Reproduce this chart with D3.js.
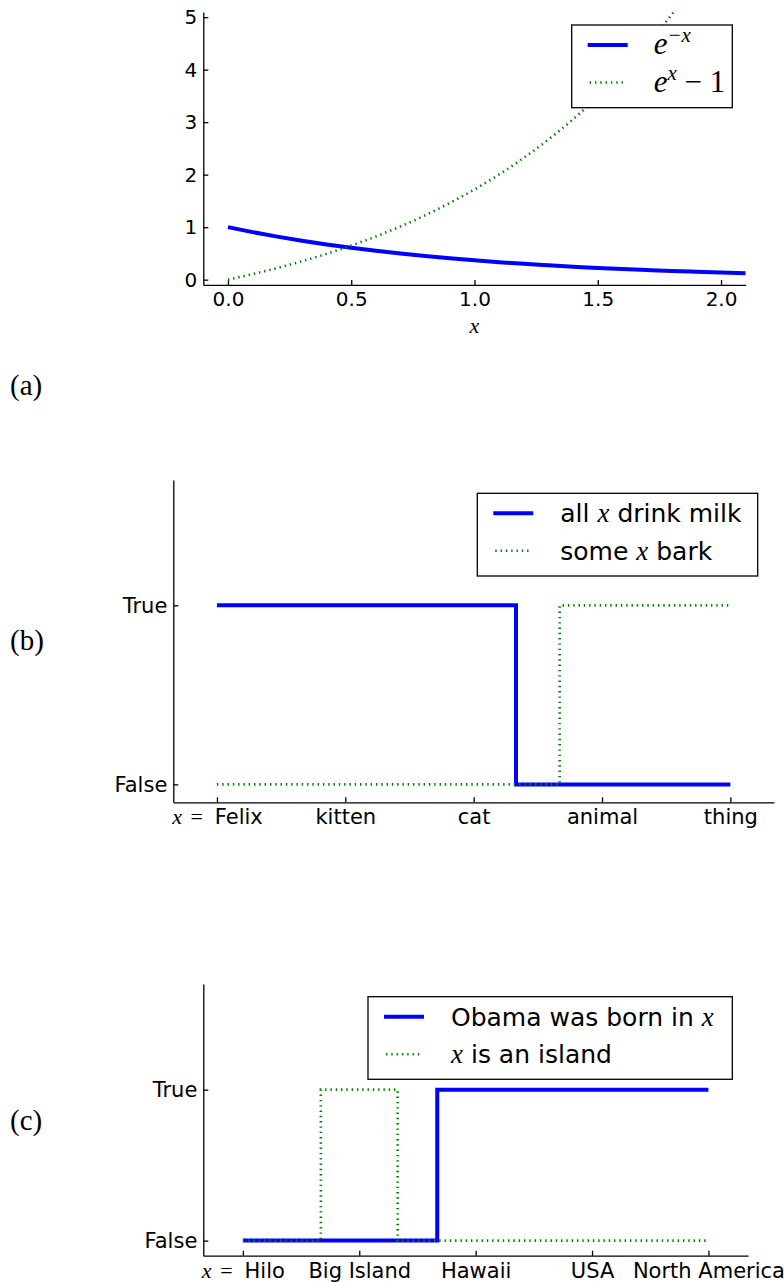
<!DOCTYPE html>
<html>
<head>
  <meta charset='utf-8'>
  <title>Three panels</title>
  <script src="https://cdn.jsdelivr.net/npm/d3@7"></script>
  <style>
    body { margin: 0; background: #fff; }
    .tick text { font-family: "DejaVu Sans", sans-serif; fill: #000; }
  </style>
</head>
<body>
  <svg width="784" height="1282" id="chart"></svg>
  <script>

    // panel (a): values
    const xsA = [0, 0.1, 0.2, 0.3, 0.4, 0.5, 0.6, 0.7, 0.8, 0.9, 1.0,
      1.1, 1.2, 1.3, 1.4, 1.5, 1.6, 1.7, 1.8, 1.9, 2.0, 2.1];
    const expNeg = [1.00, 0.905, 0.819, 0.741, 0.670, 0.607, 0.549, 0.497, 0.449, 0.407, 0.368,
      0.333, 0.301, 0.273, 0.247, 0.223, 0.202, 0.183, 0.165, 0.150, 0.135, 0.122];
    const expMinusOne = [0, 0.105, 0.221, 0.350, 0.492, 0.649, 0.822, 1.014, 1.226, 1.460, 1.718,
      2.004, 2.320, 2.669, 3.055, 3.482, 3.953, 4.474, 5.050, 5.686];
    const xTicksA = [0, 0.5, 1.0, 1.5, 2.0];
    const yTicksA = [0, 1, 2, 3, 4, 5];

    // panel (b)
    const catsB = ["Felix", "kitten", "cat", "animal", "thing"];
    const milkX = [0, 2.33, 4];
    const milkY = [1, 0, 0];
    const barkX = [0, 2.67, 4];
    const barkY = [0, 1, 1];

    // panel (c)
    const catsC = ["Hilo", "Big Island", "Hawaii", "USA", "North America"];
    const bornX = [0, 1.67, 4];
    const bornY = [0, 1, 1];
    const islandX = [0, 0.67, 1.33, 4];
    const islandY = [0, 1, 0, 0];

    const boolLabels = ["False", "True"];

    const blue = "#0000ff";
    const green = "#008000";
    const tickFont = 21;
    const serif = "'Liberation Serif', 'Times New Roman', serif";

    const svg = d3.select('#chart');

    function axes(g, x, y, xTicks, yTicks, xFmt, yFmt, fs) {
      const ax = d3.axisBottom(x).tickValues(xTicks).tickFormat(xFmt)
        .tickSizeInner(-5).tickSizeOuter(0).tickPadding(7);
      const ay = d3.axisLeft(y).tickValues(yTicks).tickFormat(yFmt)
        .tickSizeInner(-5).tickSizeOuter(0).tickPadding(6);
      const gx = g.append('g').attr('transform', `translate(0,${y.range()[0]})`).call(ax);
      const gy = g.append('g').attr('transform', `translate(${x.range()[0]},0)`).call(ay);
      [gx, gy].forEach(a => {
        a.selectAll('path, line').attr('stroke', '#000').attr('stroke-width', 1.3);
        a.selectAll('text').style('font-size', fs + 'px');
      });
      return gx;
    }

    function drawLine(g, pts, x, y, color, dotted, curve, clipId) {
      const line = d3.line().x(d => x(d[0])).y(d => y(d[1])).curve(curve);
      const p = g.append('path')
        .datum(pts)
        .attr('d', line)
        .attr('fill', 'none')
        .attr('stroke', color)
        .attr('stroke-width', dotted ? 2.6 : 4)
        .attr('stroke-dasharray', dotted ? '1.4 3.9' : null);
      if (clipId) p.attr('clip-path', `url(#${clipId})`);
    }

    function legend(g, x0, y0, w, h, items) {
      g.append('rect')
        .attr('x', x0).attr('y', y0).attr('width', w).attr('height', h)
        .attr('fill', '#fff').attr('stroke', '#000').attr('stroke-width', 1.3);
      items.forEach((it, i) => {
        const cy = y0 + 20 + i * 37.5;
        g.append('line')
          .attr('x1', x0 + (it.dotted ? 18 : 16)).attr('x2', x0 + (it.dotted ? 52 : 56))
          .attr('y1', cy).attr('y2', cy)
          .attr('stroke', it.color)
          .attr('stroke-width', it.dotted ? 2.6 : 4)
          .attr('stroke-dasharray', it.dotted ? '1.4 3.9' : null);
        const t = g.append('text').attr('x', x0 + it.tx).attr('y', cy + 9)
          .style('font-family', "'DejaVu Sans', sans-serif").style('font-size', '25px');
        it.parts.forEach(p => {
          const s = t.append('tspan').text(p.t);
          if (p.math) s.style('font-family', serif).style('font-style', 'italic').style('font-size', (p.fs || 27) + 'px');
          if (p.rm) s.style('font-family', serif).style('font-size', (p.fs || 27) + 'px');
          if (p.sup) s.attr('dy', -12).style('font-size', '21px');
          if (p.down) s.attr('dy', 12);
        });
      });
    }

    function panelLabel(txt, yc) {
      svg.append('text').attr('x', 10).attr('y', yc + 10)
        .style('font-family', serif).style('font-size', '29px').text(txt);
    }

    // first category label reads "x = Felix"
    function xEquals(gx) {
      const t = gx.select('.tick text');
      const name = t.text();
      t.text(null);
      t.append('tspan').text('x').style('font-family', serif).style('font-style', 'italic').style('font-size', '22px');
      t.append('tspan').text(' =').attr('dx', 3).style('font-family', serif).style('font-size', '22px');
      t.append('tspan').text(name).attr('dx', 12);
    }

    // ---- (a)
    {
      const x = d3.scaleLinear().domain([-0.1, 2.1]).range([203.3, 745.7]);
      const y = d3.scaleLinear().domain([-0.1, 5.1]).range([284.9, 11.9]);
      const g = svg.append('g');
      g.append('clipPath').attr('id', 'clipA').append('rect')
        .attr('x', x.range()[0]).attr('y', y.range()[1])
        .attr('width', x.range()[1] - x.range()[0]).attr('height', y.range()[0] - y.range()[1]);
      axes(g, x, y, xTicksA, yTicksA, d3.format('.1f'), d3.format('d'), 20);
      drawLine(g, xsA.map((v, i) => [v, expNeg[i]]), x, y, blue, false, d3.curveMonotoneX, 'clipA');
      drawLine(g, expMinusOne.map((v, i) => [xsA[i], v]), x, y, green, true, d3.curveMonotoneX, 'clipA');
      g.append('text').attr('x', x(1.0)).attr('y', 333).attr('text-anchor', 'middle')
        .style('font-family', serif).style('font-style', 'italic').style('font-size', '22px').text('x');
      legend(g, 571.7, 25, 160.6, 82.7, [
        { color: blue, dotted: false, tx: 82, parts: [{ t: 'e', math: true, fs: 31 }, { t: '−x', math: true, sup: true }] },
        { color: green, dotted: true, tx: 82, parts: [{ t: 'e', math: true, fs: 31 }, { t: 'x', math: true, sup: true }, { t: ' − 1', rm: true, fs: 31, down: true }] }
      ]);
      panelLabel('(a)', 385);
    }

    // ---- (b)
    {
      const x = d3.scaleLinear().domain([-0.34, 4.34]).range([173.3, 774]);
      const y = d3.scaleLinear().domain([-0.1, 1.7]).range([802.3, 480]);
      const g = svg.append('g');
      const gx = axes(g, x, y, d3.range(catsB.length), [0, 1], i => catsB[i], i => boolLabels[i], tickFont);
      xEquals(gx);
      drawLine(g, milkX.map((v, i) => [v, milkY[i]]), x, y, blue, false, d3.curveStepAfter);
      drawLine(g, barkX.map((v, i) => [v, barkY[i]]), x, y, green, true, d3.curveStepAfter);
      legend(g, 477.3, 493.3, 280.4, 82.7, [
        { color: blue, dotted: false, tx: 83, parts: [{ t: 'all ' }, { t: 'x', math: true }, { t: ' drink milk' }] },
        { color: green, dotted: true, tx: 83, parts: [{ t: 'some ' }, { t: 'x', math: true }, { t: ' bark' }] }
      ]);
      panelLabel('(b)', 640);
    }

    // ---- (c)
    {
      const x = d3.scaleLinear().domain([-0.34, 4.34]).range([203.3, 748]);
      const y = d3.scaleLinear().domain([-0.1, 1.7]).range([1255.7, 984]);
      const g = svg.append('g');
      const gx = axes(g, x, y, d3.range(catsC.length), [0, 1], i => catsC[i], i => boolLabels[i], tickFont);
      xEquals(gx);
      drawLine(g, bornX.map((v, i) => [v, bornY[i]]), x, y, blue, false, d3.curveStepAfter);
      drawLine(g, islandX.map((v, i) => [v, islandY[i]]), x, y, green, true, d3.curveStepAfter);
      legend(g, 368, 996.7, 364.3, 82.6, [
        { color: blue, dotted: false, tx: 83, parts: [{ t: 'Obama was born in ' }, { t: 'x', math: true }] },
        { color: green, dotted: true, tx: 83, parts: [{ t: 'x', math: true }, { t: ' is an island' }] }
      ]);
      panelLabel('(c)', 1120);
    }
  </script>
</body>
</html>
